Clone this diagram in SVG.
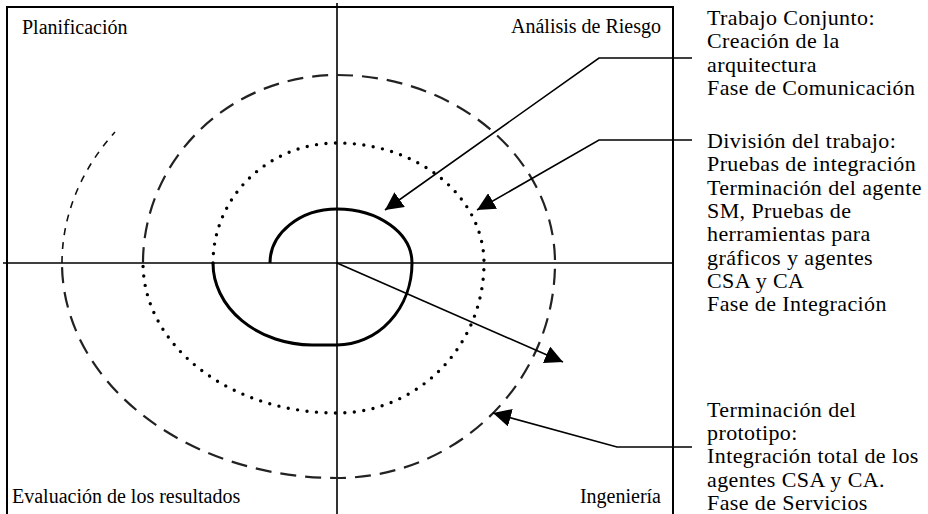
<svg xmlns="http://www.w3.org/2000/svg" width="928" height="514" viewBox="0 0 928 514">
<defs>
<style>
.frame{stroke:#000;stroke-width:2;fill:none}
.axis{stroke:#000;stroke-width:1.6;fill:none}
.solid{stroke:#000;stroke-width:3;fill:none;stroke-linejoin:round}
.dot{stroke:#000;stroke-width:3.4;fill:none;stroke-dasharray:0 9.5;stroke-linecap:round}
.dash{stroke:#222;stroke-width:2.2;fill:none;stroke-dasharray:16 9}
.thin{stroke:#111;stroke-width:1.6;fill:none;stroke-dasharray:7 7}
.lead{stroke:#000;stroke-width:1.6;fill:none;marker-end:url(#ah)}
.q{font-family:"Liberation Serif","Times New Roman",serif;font-size:20px;fill:#000}
.t{font-family:"Liberation Serif","Times New Roman",serif;font-size:22px;letter-spacing:0.4px;fill:#000}
</style>
<marker id="ah" viewBox="0 0 18 18" refX="18" refY="9" markerWidth="18" markerHeight="18" markerUnits="userSpaceOnUse" orient="auto">
<path d="M0,0 L18,9 L0,18 z" fill="#000"/>
</marker>
</defs>
<rect width="928" height="514" fill="#fff"/>
<g id="frame">
<path class="frame" d="M7,514 V7 H673 V514"/>
<path class="axis" d="M337,3 V514 M3,263 H673"/>
</g>
<g id="spiral">
<path id="spiral-solid" class="solid" d="M270,263 A67,54 0 0 1 337,209 A75,54 0 0 1 412,263 A75,82 0 0 1 337,345 L312,345 A100,82 0 0 1 213,263"/>
<path id="spiral-dotted" class="dot" d="M213,263 A124,120 0 0 1 337,143 A147,120 0 0 1 484,263 A147,150 0 0 1 337,413 A194,150 0 0 1 143,263"/>
<path id="spiral-dashed" class="dash" d="M143,263 A194,188 0 0 1 337,75 A218,188 0 0 1 555,263 A218,215 0 0 1 337,478 A275,215 0 0 1 62,263"/>
<path id="spiral-outer" class="thin" d="M62,263 A275,222 0 0 1 115,132"/>
</g>
<g id="quadrant-planificacion"><text class="q" x="22" y="34">Planificación</text></g>
<g id="quadrant-analisis"><text class="q" x="661" y="33" text-anchor="end">Análisis de Riesgo</text></g>
<g id="quadrant-evaluacion"><text class="q" x="12" y="503">Evaluación de los resultados</text></g>
<g id="quadrant-ingenieria"><text class="q" x="661" y="503" text-anchor="end">Ingeniería</text></g>
<g id="note-comunicacion">
<text class="t" x="707" y="25">Trabajo Conjunto:</text>
<text class="t" x="707" y="48">Creación de la</text>
<text class="t" x="707" y="72">arquitectura</text>
<text class="t" x="707" y="95">Fase de Comunicación</text>
</g>
<g id="note-integracion">
<text class="t" x="707" y="148">División del trabajo:</text>
<text class="t" x="707" y="171">Pruebas de integración</text>
<text class="t" x="707" y="195">Terminación del agente</text>
<text class="t" x="707" y="218">SM, Pruebas de</text>
<text class="t" x="707" y="241">herramientas para</text>
<text class="t" x="707" y="265">gráficos y agentes</text>
<text class="t" x="707" y="288">CSA y CA</text>
<text class="t" x="707" y="311">Fase de Integración</text>
</g>
<g id="note-servicios">
<text class="t" x="707" y="417">Terminación del</text>
<text class="t" x="707" y="440">prototipo:</text>
<text class="t" x="707" y="463">Integración total de los</text>
<text class="t" x="707" y="487">agentes CSA y CA.</text>
<text class="t" x="707" y="510">Fase de Servicios</text>
</g>
<g id="connectors">
<path class="lead" d="M692,58 H599 L385,210"/>
<path class="lead" d="M692,140 H599 L477,210"/>
<path class="lead" d="M692,447 H617 L493,413"/>
<path class="lead" d="M337,263 L563,362"/>
</g>
</svg>
